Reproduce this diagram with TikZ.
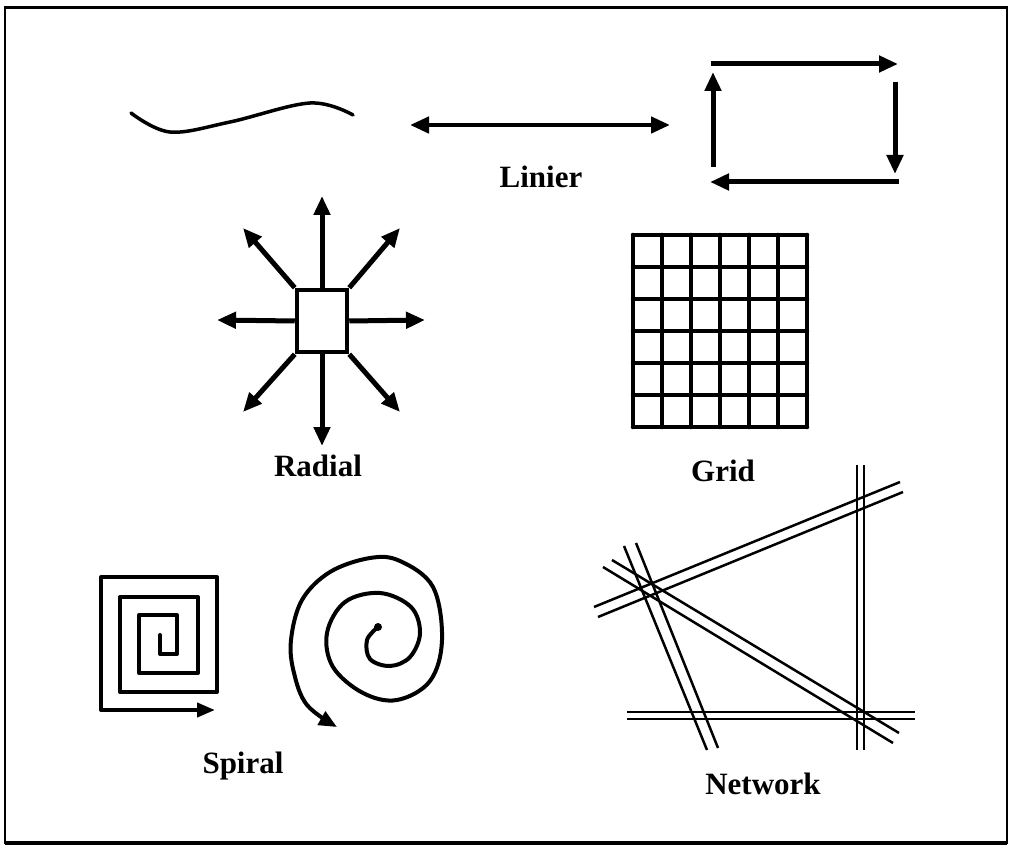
\documentclass[tikz,border=0pt]{standalone}
\usepackage{fontspec}
\setmainfont{Liberation Serif}
\usetikzlibrary{arrows.meta}
\begin{document}
\begin{tikzpicture}[x=1pt,y=-1pt,
  lbl/.style={font=\fontsize{31}{36}\selectfont\bfseries, inner sep=0pt},
  arr/.style={line width=5pt, -{Triangle[length=19pt,width=16pt]}},
  dbl/.style={line width=4.5pt, {Triangle[length=19pt,width=16pt]}-{Triangle[length=19pt,width=16pt]}},
  thick3/.style={line width=4pt, line join=round, line cap=round},
  road/.style={line width=2.5pt}]
\useasboundingbox (0,0) rectangle (1012,850);
% frame
\draw[line width=2pt] (5,7) rectangle (1007,843);
\draw[line width=3.5pt] (5,843) -- (1007,843);
\draw[line width=3pt] (5,8) -- (1007,8);

% ---------- Linier ----------
\draw[line width=3.5pt, line cap=round] plot[smooth, tension=0.6] coordinates {(131,113) (170,132) (230,122) (310,103) (353,115)};
\coordinate (la) at (410,125);
\coordinate (lb) at (670,125);
\draw[dbl] (la) -- (lb);
\node[lbl] (linier) at (541,177) {Linier};
\coordinate (r1) at (711,64);  \coordinate (r2) at (898,64);
\coordinate (r3) at (895,82);  \coordinate (r4) at (895,174);
\coordinate (r5) at (899,182); \coordinate (r6) at (710,182);
\coordinate (r7) at (713,167); \coordinate (r8) at (713,72);
\draw[arr] (r1) -- (r2);
\draw[arr] (r3) -- (r4);
\draw[arr] (r5) -- (r6);
\draw[arr] (r7) -- (r8);

% ---------- Radial ----------
\node[draw, line width=4.5pt, minimum width=50pt, minimum height=62pt, inner sep=0pt] (sq) at (322,321) {};
\coordinate (rn) at (322,196);
\coordinate (rs) at (322,446);
\coordinate (rw) at (217,320);
\coordinate (re) at (425,320);
\coordinate (rnw) at (243,228);
\coordinate (rne) at (400,228);
\coordinate (rsw) at (243,412);
\coordinate (rse) at (400,412);
\draw[arr] (sq.north) -- (rn);
\draw[arr] (sq.south) -- (rs);
\draw[arr] (sq.west) -- (rw);
\draw[arr] (sq.east) -- (re);
\draw[arr] (sq.north west) -- (rnw);
\draw[arr] (sq.north east) -- (rne);
\draw[arr] (sq.south west) -- (rsw);
\draw[arr] (sq.south east) -- (rse);
\node[lbl] (radial) at (318,466) {Radial};

% ---------- Grid ----------
\foreach \i in {0,...,6} {
  \draw[line width=4.5pt, line cap=round] ({633+\i*29},235) -- ({633+\i*29},427);
  \draw[line width=4.5pt, line cap=round] (633,{235+\i*32}) -- (807,{235+\i*32});
}
\node[lbl] (grid) at (723,471) {Grid};

% ---------- Spiral ----------
\coordinate (sqa) at (160,635);
\coordinate (sqb) at (215,710);
\draw[thick3, -{Triangle[length=18pt,width=14pt]}] (sqa) -- (160,654) -- (177,654) -- (177,615) -- (139,615) -- (139,673) -- (198,673) -- (198,597) -- (120,597) -- (120,692) -- (217,692) -- (217,577) -- (101,577) -- (101,710) -- (sqb);
\draw[line width=4pt, line cap=round, -{Triangle[length=18pt,width=15pt]}] plot[smooth, tension=0.6] coordinates {
 (378,627) (367,640) (370,659) (390,666) (410,657) (420,633) (411,607) (380,593) (345,602) (327,633) (333,667) (363,693) (397,700) (430,681) (442,640) (433,587) (400,561) (370,558) (330,572) (302,600) (291,640) (294,673) (307,705) (337,727)};
\fill (378,627) circle (4pt);
\node[lbl] (spiral) at (243,766) {Spiral};

% ---------- Network ----------
\coordinate (va1) at (857,465); \coordinate (vb1) at (857,750);
\coordinate (va2) at (864,465); \coordinate (vb2) at (864,750);
\draw[road] (va1) -- (vb1);
\draw[road] (va2) -- (vb2);
\coordinate (ha1) at (627,712); \coordinate (hb1) at (915,712);
\coordinate (ha2) at (627,719); \coordinate (hb2) at (915,719);
\draw[road] (ha1) -- (hb1);
\draw[road] (ha2) -- (hb2);
\coordinate (ua1) at (594,607); \coordinate (ub1) at (900,482);
\coordinate (ua2) at (598,617); \coordinate (ub2) at (903,492);
\draw[road] (ua1) -- (ub1);
\draw[road] (ua2) -- (ub2);
\coordinate (sa1) at (624,546); \coordinate (sb1) at (707,750);
\coordinate (sa2) at (636,543); \coordinate (sb2) at (718,748);
\draw[road] (sa1) -- (sb1);
\draw[road] (sa2) -- (sb2);
\coordinate (da1) at (603,567); \coordinate (db1) at (893,743);
\coordinate (da2) at (612,560); \coordinate (db2) at (899,733);
\draw[road] (da1) -- (db1);
\draw[road] (da2) -- (db2);
\node[lbl] (network) at (763,784) {Network};
\end{tikzpicture}
\end{document}
